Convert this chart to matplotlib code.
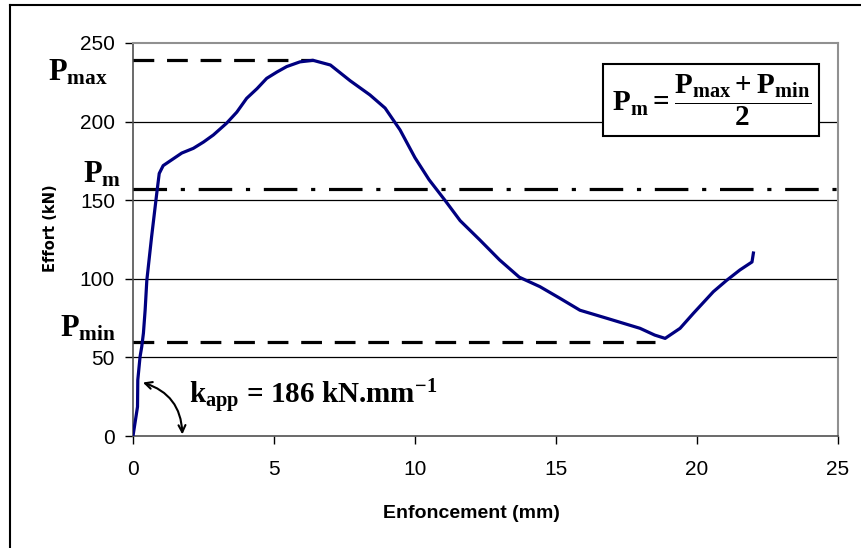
import matplotlib
matplotlib.use('Agg')
import matplotlib.pyplot as plt
from matplotlib.lines import Line2D

# measured curve (enfoncement mm, effort kN)
enfoncement = [0.0, 0.16, 0.17, 0.25, 0.31, 0.37, 0.43, 0.49, 0.66, 0.84, 0.93, 1.07,
               1.40, 1.73, 2.14, 2.50, 2.85, 3.32, 3.68, 4.03, 4.40, 4.74, 5.10, 5.45,
               5.92, 6.38, 7.00, 7.70, 8.40, 8.94, 9.47, 10.0, 10.5, 11.06, 11.6, 12.3,
               13.0, 13.7, 14.43, 15.14, 15.85, 16.8, 17.98, 18.5, 18.87, 19.4, 19.87,
               20.58, 21.05, 21.52, 21.95, 22.0]
effort = [0, 18.6, 35.6, 50.4, 56.8, 65.5, 80, 99, 126.8, 154, 167, 172,
          176, 180, 183, 187, 191.5, 199, 206, 214.8, 221, 227.5, 231.5, 235,
          238, 239, 236, 226, 217, 208.6, 194.7, 177, 163, 150, 137, 124.7,
          112, 101, 95, 87.6, 80, 74.9, 68.5, 64.2, 62.1, 68.5, 78,
          91.8, 99, 105.6, 110.7, 116.4]

p_max = 239.2
p_min = 59.5
p_m = 157.0
x_end_pmax = 6.4
x_end_pmin = 18.5

xticks = [0, 5, 10, 15, 20, 25]
yticks = [0, 50, 100, 150, 200, 250]

plt.rcParams['mathtext.fontset'] = 'custom'
plt.rcParams['mathtext.rm'] = 'Liberation Serif:bold'
plt.rcParams['mathtext.bf'] = 'Liberation Serif:bold'
plt.rcParams['mathtext.it'] = 'Liberation Serif:bold'

SERIF = dict(family='Liberation Serif', fontweight='bold')

fig = plt.figure(figsize=(8.62, 5.48), dpi=100)
ax = fig.add_axes([133/862, 112/548, 705/862, 393/548])

ax.set_xlim(0, 25)
ax.set_ylim(0, 250)
ax.set_xticks(xticks)
ax.set_yticks(yticks)
ax.tick_params(labelsize=15, length=6, width=1, direction='out')
ax.tick_params(axis='x', pad=11)
ax.tick_params(axis='y', pad=7)
for lab in ax.get_xticklabels() + ax.get_yticklabels():
    lab.set_family('Liberation Sans')

for y in yticks[1:-1]:
    ax.axhline(y, color='black', lw=0.9, zorder=1)

for s in ['top', 'right']:
    ax.spines[s].set_color('#909090')
    ax.spines[s].set_linewidth(1.5)
for s in ['left', 'bottom']:
    ax.spines[s].set_color('#505050')
    ax.spines[s].set_linewidth(1.2)

ax.plot([0, x_end_pmax], [p_max, p_max], color='black', lw=2.3, dashes=(6.5, 4), zorder=3)
ax.plot([0, x_end_pmin], [p_min, p_min], color='black', lw=2.3, dashes=(6.5, 4), zorder=3)
ax.plot([0, 25], [p_m, p_m], color='black', lw=2.3, dashes=(10.5, 4.3, 1.3, 4.3), zorder=3)

ax.plot(enfoncement, effort, color='#000080', lw=2.3, zorder=4, solid_joinstyle='round')

ax.set_xlabel('Enfoncement (mm)', fontsize=14, fontweight='bold', family='Liberation Sans')
ax.xaxis.set_label_coords(0.48, -0.175)
ax.set_ylabel('Effort (kN)', fontsize=10.5, fontweight='bold', family='DejaVu Sans')
ax.yaxis.set_label_coords(-0.106, 0.53)

# labels of the reference lines
ax.text(-1.95, p_max - 8, r'P$_{\mathbf{max}}$', fontsize=22, ha='center', va='center', **SERIF)
ax.text(-1.1, p_m + 9, r'P$_{\mathbf{m}}$', fontsize=22, ha='center', va='center', **SERIF)
ax.text(-1.6, p_min + 9, r'P$_{\mathbf{min}}$', fontsize=22, ha='center', va='center', **SERIF)

ax.text(0.82, 0.855, r'$\mathbf{P_m = \dfrac{P_{max}+P_{min}}{2}}$', transform=ax.transAxes,
        fontsize=21, ha='center', va='center',
        bbox=dict(boxstyle='square,pad=0.3', fc='white', ec='black', lw=1.5), zorder=6)

ax.annotate('', xy=(0.35, 34), xytext=(1.75, 1),
            arrowprops=dict(arrowstyle='<->,head_length=0.5,head_width=0.25', lw=1.5,
                            color='black', connectionstyle='arc3,rad=0.35',
                            shrinkA=0, shrinkB=0), zorder=5)
ax.text(2.0, 25, r'k$_{\mathbf{app}}$ = 186 kN.mm$^{\mathbf{-1}}$', fontsize=21,
        ha='left', va='center', **SERIF)

fig.add_artist(Line2D([10/862, 10/862], [0, 543/548], color='black', lw=1.5,
                      transform=fig.transFigure))
fig.add_artist(Line2D([10/862, 1], [543/548, 543/548], color='black', lw=1.5,
                      transform=fig.transFigure))

fig.savefig('out.png', dpi=100)
